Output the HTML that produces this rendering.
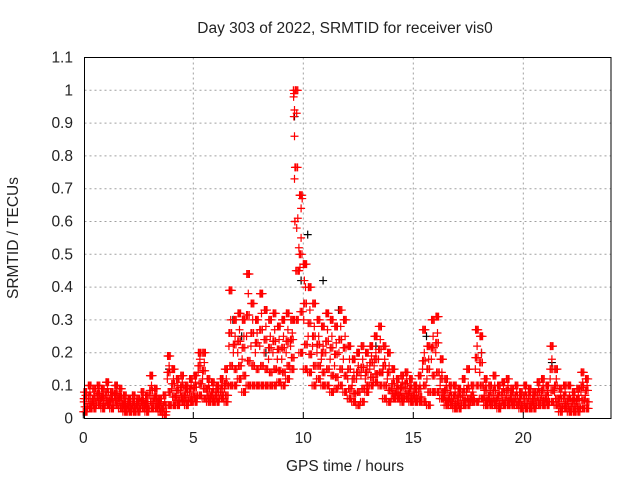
<!DOCTYPE html>
<html><head><meta charset="utf-8"><style>
body{margin:0;background:#fff}
svg text{font-family:"Liberation Sans",sans-serif;font-size:15.5px;fill:#222}
</style></head><body>
<svg id="chart" width="640" height="480">
<rect width="640" height="480" fill="#fff"/>
<g id="grid"></g>
<g id="black"></g>
<g id="pts"></g>
<rect x="84.5" y="57.5" width="526.5" height="361" fill="none" stroke="#000" stroke-width="1"/>
<g id="ticks"></g>
<text x="345" y="33" text-anchor="middle">Day 303 of 2022, SRMTID for receiver vis0</text>
<text x="345" y="471" text-anchor="middle">GPS time / hours</text>
<text transform="translate(18,238) rotate(-90)" text-anchor="middle">SRMTID / TECUs</text>
</svg>
<script>
const xTicks=[0,5,10,15,20];
const yTicks=[0,0.1,0.2,0.3,0.4,0.5,0.6,0.7,0.8,0.9,1,1.1];
const yTickLabels=["0","0.1","0.2","0.3","0.4","0.5","0.6","0.7","0.8","0.9","1","1.1"];
const tStep=0.2;
const hi=[.08,.1,.09,.1,.09,.11,.08,.1,.09,.07,.06,.07,.06,.08,.07,.13,.09,.06,.07,.19,.15,.12,.13,.1,.12,.13,.2,.2,.12,.11,.1,.12,.15,.39,.3,.32,.3,.44,.35,.3,.38,.33,.3,.32,.28,.3,.32,.3,1.0,.68,.47,.4,.35,.3,.28,.32,.3,.28,.33,.3,.22,.18,.2,.22,.2,.22,.25,.28,.22,.2,.15,.12,.13,.14,.12,.1,.13,.27,.22,.3,.31,.18,.12,.1,.1,.09,.12,.15,.1,.27,.25,.12,.1,.13,.1,.11,.12,.09,.1,.08,.1,.09,.08,.11,.12,.1,.22,.15,.09,.1,.1,.08,.09,.14,.12];
const lo=[.02,.03,.03,.04,.03,.04,.03,.04,.03,.02,.02,.02,.02,.03,.02,.03,.03,.02,.01,.04,.04,.04,.05,.04,.05,.05,.07,.06,.05,.05,.05,.06,.05,.1,.1,.12,.08,.1,.1,.1,.1,.1,.1,.1,.11,.1,.12,.15,.3,.2,.15,.14,.1,.12,.1,.1,.08,.09,.1,.08,.06,.05,.04,.05,.08,.1,.11,.1,.06,.05,.06,.06,.05,.06,.05,.05,.05,.05,.04,.08,.08,.06,.04,.04,.03,.03,.04,.04,.05,.05,.06,.04,.04,.04,.03,.04,.04,.04,.04,.03,.03,.03,.03,.04,.04,.04,.05,.04,.02,.03,.02,.02,.02,.03,.03];
const mid1=[.05,.06,.05,.07,.06,.07,.05,.07,.06,.04,.04,.04,.04,.05,.04,.07,.06,.04,.03,.12,.09,.07,.08,.07,.08,.08,.14,.12,.08,.07,.07,.08,.09,.22,.2,.2,.18,.25,.22,.2,.22,.2,.18,.2,.18,.18,.2,.22,.6,.45,.3,.25,.22,.2,.18,.2,.18,.16,.2,.18,.12,.1,.12,.13,.12,.15,.16,.18,.14,.12,.09,.08,.08,.09,.08,.07,.08,.15,.12,.18,.2,.1,.07,.06,.06,.05,.07,.08,.06,.15,.14,.07,.06,.07,.06,.07,.07,.06,.06,.05,.06,.06,.05,.07,.07,.06,.12,.08,.05,.06,.05,.05,.05,.08,.07];
const mid2=[.07,.08,.07,.08,.07,.09,.07,.08,.07,.05,.05,.05,.05,.06,.05,.1,.07,.05,.05,.16,.12,.1,.11,.09,.1,.11,.18,.17,.1,.09,.09,.1,.12,.3,.25,.27,.25,.38,.3,.26,.32,.28,.25,.27,.24,.25,.27,.26,.93,.55,.4,.33,.28,.25,.22,.27,.25,.23,.28,.25,.18,.14,.16,.18,.16,.19,.2,.24,.18,.16,.12,.1,.11,.12,.1,.09,.1,.2,.18,.25,.26,.14,.1,.08,.08,.08,.09,.1,.08,.22,.2,.1,.08,.1,.08,.09,.1,.08,.08,.07,.08,.08,.07,.09,.1,.08,.18,.12,.07,.08,.07,.06,.07,.11,.1];
const peakT=[9.55,9.58,9.56,9.6,9.57,9.6,9.6,9.62,9.7,9.75,9.8,9.85,9.9,9.95,10.0,10.05];
const peakV=[1.0,0.99,0.98,0.94,0.92,0.86,0.73,0.6,0.58,0.61,0.52,0.46,0.64,0.67,0.47,0.42];
const blackT=[6.8,7.2,8.3,9.6,10.2,10.9,11.6,12.5,15.6,18.1,21.3,3.9,1.5,13.3,9.9];
const blackV=[0.3,0.25,0.2,0.92,0.56,0.42,0.33,0.2,0.25,0.2,0.17,0.15,0.1,0.22,0.42];

const X=t=>83.3+22*t, Y=v=>418.3-328*v;
const NS="http://www.w3.org/2000/svg";
function el(tag,attrs,parent){const e=document.createElementNS(NS,tag);for(const k in attrs)e.setAttribute(k,attrs[k]);parent.appendChild(e);return e;}
const grid=document.getElementById('grid'),ticks=document.getElementById('ticks'),pts=document.getElementById('pts'),blk=document.getElementById('black');
xTicks.forEach(t=>{
  const x=X(t);
  if(t>0){const g=el('line',{x1:x,x2:x,y1:57.5,y2:418.5,stroke:'#a0a0a0','stroke-dasharray':'2,3'},grid);
  
  }
  const tk=el('line',{x1:x,x2:x,y1:418.5,y2:412,stroke:'#000'},ticks);
  
  
  const tx=el('text',{x:x,y:443,'text-anchor':'middle'},ticks);tx.textContent=t;
  
  
});
yTicks.forEach((v,i)=>{
  const y=Y(v);
  if(v>0&&v<1.1){const g=el('line',{x1:84.5,x2:611,y1:y,y2:y,stroke:'#a0a0a0','stroke-dasharray':'2,3'},grid);
  
  }
  const tx=el('text',{x:73,y:y+5,'text-anchor':'end'},ticks);tx.textContent=yTickLabels[i];
  
  
});
function plus(t,v,color,parent){
  const x=X(t),y=Y(v);
  const p=el('path',{d:`M${x-4},${y}H${x+4}M${x},${y-4}V${y+4}`,stroke:color,'stroke-width':1.2,fill:'none'},parent);
  
  
}
blackT.forEach((t,i)=>plus(t,blackV[i],'#000',blk));
const series=[lo,mid1,mid2,hi];
const passes=[[0,0.02,0.1,0.15],[0.08,0.12,0.02,0.05],[0.17,0.06,0.14,0.1],[0.12,0.18,0.07,0.03]];
hi.forEach((_,i)=>{
  const t=i*tStep;
  passes.forEach((offs,p)=>{
    series.forEach((s,k)=>{
      const v=(p===0||k===0||k===3)?s[i]:(s[i]+series[k-1][i])/2;
      plus(t+offs[k],p===0?s[i]:v,'#f00',pts);
    });
  });
});
peakT.forEach((t,i)=>plus(t,peakV[i],'#f00',pts));
</script>
</body></html>
